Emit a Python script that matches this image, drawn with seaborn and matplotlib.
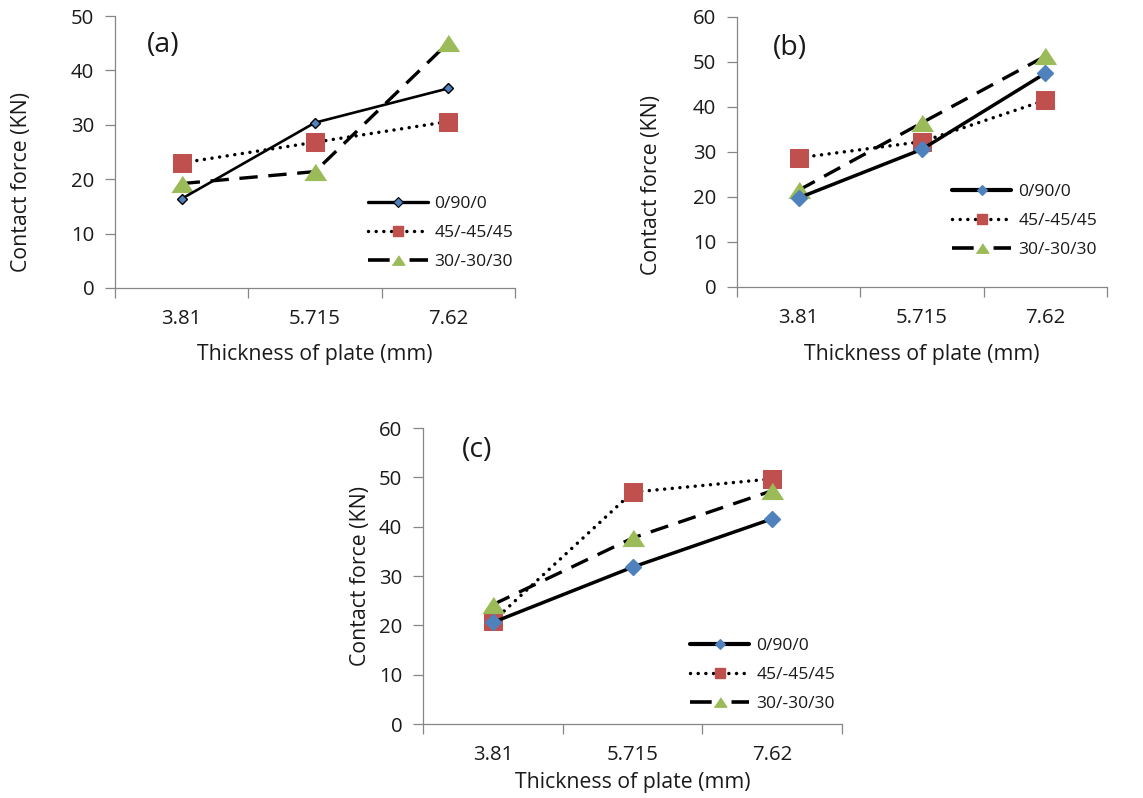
import numpy as np
import pandas as pd
import matplotlib
matplotlib.use("Agg")
import matplotlib.pyplot as plt
from matplotlib.lines import Line2D
import seaborn as sns

# ---------------- data ----------------
categories = ["3.81", "5.715", "7.62"]
series_names = ["0/90/0", "45/-45/45", "30/-30/30"]

a_0_90_0 = [16.4, 30.4, 36.7]
a_45 = [23.0, 26.8, 30.6]
a_30 = [19.2, 21.4, 45.1]

b_0_90_0 = [19.8, 30.6, 47.5]
b_45 = [28.7, 32.3, 41.5]
b_30 = [21.5, 36.5, 51.3]

c_0_90_0 = [20.6, 31.8, 41.6]
c_45 = [20.8, 47.0, 49.7]
c_30 = [24.2, 37.7, 47.3]

panel_labels = ["(a)", "(b)", "(c)"]
y_max = [50, 60, 60]

# ---------------- style ----------------
sns.set_theme(style="white")
plt.rcParams["font.family"] = ["Open Sans", "DejaVu Sans"]

BLUE = "#4F81BD"
RED = "#C0504D"
GREEN = "#9BBB59"
GRAY = "#868686"
TXT = "#1a1a1a"
FS_TICK = 14.7
FS_LABEL = 15.3
FS_LEG = 12.6

tri = [(-1, -0.75), (1, -0.75), (0, 0.75)]
DOT = (0, (0.01, 2.2))
DASH = (0, (5.5, 3.2))

fig = plt.figure(figsize=(11.43, 7.98), dpi=100)

# positions [left, bottom, width, height]
positions = [
    [0.1006, 0.6391, 0.3500, 0.3408],
    [0.6448, 0.6404, 0.3237, 0.3383],
    [0.3701, 0.0927, 0.3666, 0.3709],
]
panel_data = [
    (a_0_90_0, a_45, a_30),
    (b_0_90_0, b_45, b_30),
    (c_0_90_0, c_45, c_30),
]
diamond_ms = [5.0, 8.5, 8.5]
diamond_edge = ["black", BLUE, BLUE]
solid_lw = [1.9, 2.5, 2.5]
ylabel_pos = [(-0.2325, 0.39), (-0.23, 0.378), (-0.150, 0.5)]
xlabel_pos = [(0.5, -0.246), (0.5, -0.252), (0.5, -0.196)]
tag_pos = [(0.12, 0.893), (0.143, 0.885), (0.129, 0.926)]
legend_pos = [(0.6325, 0.202), (0.581, 0.244), (0.637, 0.166)]

for i, pos in enumerate(positions):
    ax = fig.add_axes(pos)
    s0, s45, s30 = panel_data[i]
    df = pd.DataFrame({
        "x": np.arange(len(categories)),
        "s0": s0, "s45": s45, "s30": s30,
    })
    sns.lineplot(data=df, x="x", y="s45", ax=ax, color="black",
                 linestyle=DOT, linewidth=2.5, dash_capstyle="round",
                 marker="s", markersize=13.5, markerfacecolor=RED,
                 markeredgecolor=RED, zorder=3)
    sns.lineplot(data=df, x="x", y="s30", ax=ax, color="black",
                 linestyle=DASH, linewidth=2.4,
                 marker=tri, markersize=15.5, markerfacecolor=GREEN,
                 markeredgecolor=GREEN, zorder=3)
    sns.lineplot(data=df, x="x", y="s0", ax=ax, color="black",
                 linestyle="-", linewidth=solid_lw[i],
                 marker="D", markersize=diamond_ms[i], markerfacecolor=BLUE,
                 markeredgecolor=diamond_edge[i], markeredgewidth=1.0,
                 zorder=4)

    ax.set_xlim(-0.5, len(categories) - 0.5)
    ax.set_ylim(0, y_max[i])
    ax.set_yticks(np.arange(0, y_max[i] + 1, 10))
    ax.set_xticks(np.arange(len(categories)))
    ax.set_xticklabels(categories)
    ax.set_xticks(np.arange(-0.5, len(categories), 1.0), minor=True)
    ax.tick_params(axis="x", which="major", length=0, pad=15,
                   labelsize=FS_TICK, labelcolor=TXT)
    ax.tick_params(axis="x", which="minor", length=7, width=0.9,
                   color=GRAY, direction="out", bottom=True)
    ax.tick_params(axis="y", which="major", length=7, width=0.9,
                   color=GRAY, direction="out", left=True, pad=8,
                   labelsize=FS_TICK, labelcolor=TXT)
    for side in ["top", "right"]:
        ax.spines[side].set_visible(False)
    for side in ["left", "bottom"]:
        ax.spines[side].set_color(GRAY)
        ax.spines[side].set_linewidth(0.9)
    ax.grid(False)

    ax.set_xlabel("Thickness of plate (mm)", fontsize=FS_LABEL, color=TXT)
    ax.xaxis.set_label_coords(*xlabel_pos[i])
    ax.xaxis.label.set_va("center")
    ax.set_ylabel("Contact force (KN)", fontsize=FS_LABEL, color=TXT)
    ax.yaxis.set_label_coords(*ylabel_pos[i])
    ax.yaxis.label.set_va("center")

    ax.text(tag_pos[i][0], tag_pos[i][1], panel_labels[i],
            transform=ax.transAxes, fontsize=20.5, color=TXT,
            ha="center", va="center")

    handles = [
        Line2D([], [], color="black", linestyle="-", linewidth=solid_lw[i] + 0.5,
               marker="D", markersize=5.2, markerfacecolor=BLUE,
               markeredgecolor=diamond_edge[i], markeredgewidth=0.8),
        Line2D([], [], color="black", linestyle=DOT, linewidth=2.5,
               dash_capstyle="round",
               marker="s", markersize=7.5, markerfacecolor=RED,
               markeredgecolor=RED),
        Line2D([], [], color="black", linestyle=(0, (6.0, 5.5)), linewidth=2.6,
               marker=tri, markersize=9, markerfacecolor=GREEN,
               markeredgecolor=GREEN),
    ]
    leg = ax.legend(handles, series_names, loc="center left",
                    bbox_to_anchor=legend_pos[i], frameon=False,
                    fontsize=FS_LEG, handlelength=3.4, handletextpad=0.4,
                    borderpad=0, borderaxespad=0, labelspacing=0.72,
                    numpoints=1)
    for t in leg.get_texts():
        t.set_color(TXT)

fig.savefig("out.png", dpi=100)
